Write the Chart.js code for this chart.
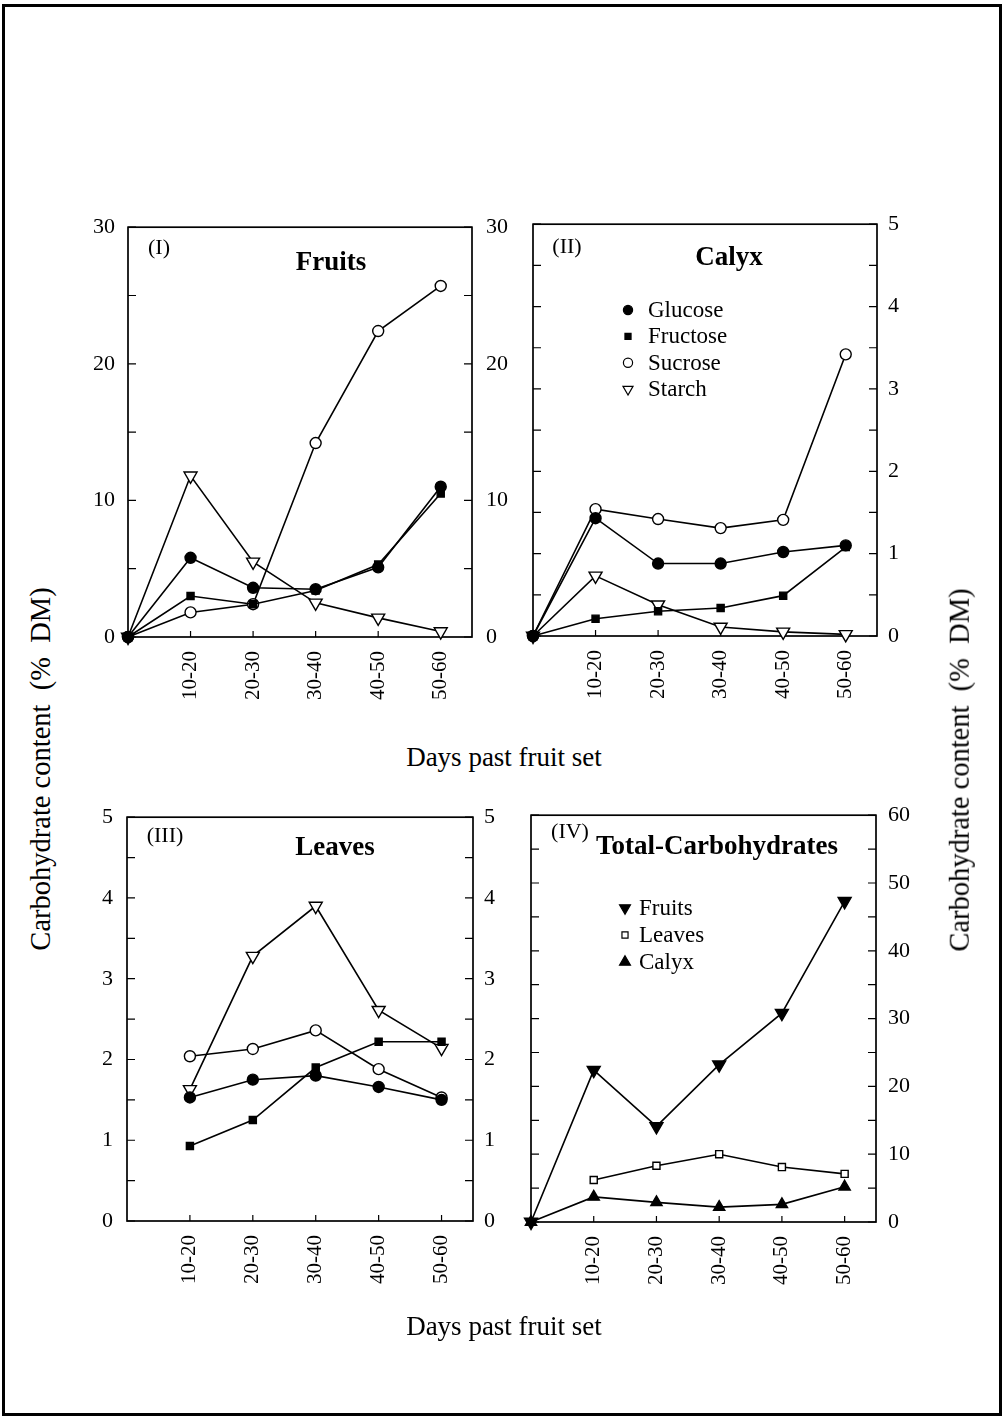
<!DOCTYPE html>
<html>
<head>
<meta charset="utf-8">
<script src="https://cdn.jsdelivr.net/npm/chart.js@4.4.1/dist/chart.umd.min.js"></script>
<style>
  html, body { margin:0; padding:0; background:#fff; }
  body { position:relative; width:1005px; height:1418px; overflow:hidden; font-family:"Liberation Serif","Times New Roman",serif; color:#000; }
  #frame { position:absolute; left:2px; top:4px; width:1000px; height:1412px; box-sizing:border-box; border:3px solid #000; }
  canvas { position:absolute; }
  .t { position:absolute; white-space:pre; line-height:1; transform:translate(-50%,-50%); }
  .b { font-weight:bold; font-size:27px; }
  .p { font-size:22px; }
  .ax { font-size:27px; }
  .ay { font-size:28.5px; }
  .rot { transform:translate(-50%,-50%) rotate(-90deg); }
</style>
</head>
<body>
<div id="frame"></div>
<canvas id="c1" width="470" height="540" style="left:60px;top:200px"></canvas>
<canvas id="c2" width="440" height="540" style="left:520px;top:200px"></canvas>
<canvas id="c3" width="470" height="540" style="left:60px;top:790px"></canvas>
<canvas id="c4" width="440" height="540" style="left:520px;top:790px"></canvas>

<div class="t p" style="left:159px;top:247px">(I)</div>
<div class="t b" style="left:331px;top:261px">Fruits</div>
<div class="t p" style="left:567px;top:246px">(II)</div>
<div class="t b" style="left:729px;top:256px">Calyx</div>
<div class="t p" style="left:165px;top:835px">(III)</div>
<div class="t b" style="left:335px;top:846px">Leaves</div>
<div class="t p" style="left:570px;top:831px">(IV)</div>
<div class="t b" style="left:717px;top:845px">Total-Carbohydrates</div>

<div class="t ax" style="left:504px;top:757px">Days past fruit set</div>
<div class="t ax" style="left:504px;top:1326px">Days past fruit set</div>
<div class="t ay rot" style="left:41px;top:769px">Carbohydrate content  (%  DM)</div>
<div class="t ay rot" style="left:960px;top:770px">Carbohydrate content  (%  DM)</div>

<script>
// ---------------- data ----------------
// x index 0 = fruit set (starting point), 1..5 = the periods below
const periods = ['10-20', '20-30', '30-40', '40-50', '50-60'];

// (I) Fruits, % DM
const fruitsGlucose  = [0, 5.8, 3.6, 3.5, 5.1, 11.0];
const fruitsFructose = [0, 3.0, 2.4, 3.4, 5.3, 10.5];
const fruitsSucrose  = [0, 1.8, 2.4, 14.2, 22.4, 25.7];
const fruitsStarch   = [0, 11.8, 5.5, 2.5, 1.4, 0.4];

// (II) Calyx, % DM
const calyxGlucose  = [0, 1.43, 0.88, 0.88, 1.02, 1.10];
const calyxFructose = [0, 0.21, 0.30, 0.34, 0.49, 1.08];
const calyxSucrose  = [0, 1.54, 1.42, 1.31, 1.41, 3.42];
const calyxStarch   = [0, 0.73, 0.38, 0.11, 0.05, 0.02];

// (III) Leaves, % DM (no fruit-set value)
const leavesGlucose  = [null, 1.53, 1.75, 1.80, 1.66, 1.50];
const leavesFructose = [null, 0.93, 1.25, 1.90, 2.22, 2.22];
const leavesSucrose  = [null, 2.04, 2.13, 2.36, 1.88, 1.53];
const leavesStarch   = [null, 1.63, 3.28, 3.90, 2.61, 2.14];

// (IV) Total carbohydrates, % DM
const totalFruits = [0, 22.4, 14.1, 23.2, 30.8, 47.3];
const totalLeaves = [null, 6.2, 8.3, 10.0, 8.1, 7.1];
const totalCalyx  = [0, 3.7, 2.9, 2.2, 2.6, 5.2];

// axis tick values and labels
const ticksFruits  = [0, 5, 10, 15, 20, 25, 30];
const labelsFruits = ['0', '', '10', '', '20', '', '30'];
const ticksFive    = [0, 0.5, 1, 1.5, 2, 2.5, 3, 3.5, 4, 4.5, 5];
const labelsFive   = ['0', '', '1', '', '2', '', '3', '', '4', '', '5'];
const ticksTotal   = [0, 5, 10, 15, 20, 25, 30, 35, 40, 45, 50, 55, 60];
const labelsTotal  = ['0', '', '10', '', '20', '', '30', '', '40', '', '50', '', '60'];

// ---------------- helpers ----------------
Chart.defaults.font.family = '"Liberation Serif", "Times New Roman", serif';
Chart.defaults.color = '#000';

const toPoints = arr => arr.map((v, i) => ({ x: i, y: v }));

const styles = {
  glucose:  { pointStyle: 'circle',   pointRotation: 0,   pointBackgroundColor: '#000', pointRadius: 5.5 },
  fructose: { pointStyle: 'rect',     pointRotation: 0,   pointBackgroundColor: '#000', pointRadius: 5 },
  sucrose:  { pointStyle: 'circle',   pointRotation: 0,   pointBackgroundColor: '#fff', pointRadius: 5.5 },
  starch:   { pointStyle: 'triangle', pointRotation: 180, pointBackgroundColor: '#fff', pointRadius: 7.5 },
  tFruits:  { pointStyle: 'triangle', pointRotation: 180, pointBackgroundColor: '#000', pointRadius: 7.5 },
  tLeaves:  { pointStyle: 'rect',     pointRotation: 0,   pointBackgroundColor: '#fff', pointRadius: 5 },
  tCalyx:   { pointStyle: 'triangle', pointRotation: 0,   pointBackgroundColor: '#000', pointRadius: 6.5 }
};

function ds(label, values, st) {
  return Object.assign({
    label, data: toPoints(values),
    borderColor: '#000', borderWidth: 1.6,
    pointBorderColor: '#000', pointBorderWidth: 1.4,
    pointHoverRadius: 0, tension: 0, clip: false, spanGaps: false, fill: false
  }, st);
}

const framePlugin = {
  id: 'frame',
  beforeDatasetsDraw(chart) {
    const { ctx, chartArea: a, scales } = chart;
    ctx.save();
    ctx.strokeStyle = '#000';
    ctx.lineWidth = 1.7;
    ctx.strokeRect(a.left, a.top, a.right - a.left, a.bottom - a.top);
    ctx.lineWidth = 1.2;
    ctx.beginPath();
    scales.y.ticks.forEach(t => { const p = scales.y.getPixelForValue(t.value); ctx.moveTo(a.left, p); ctx.lineTo(a.left + 8, p); });
    scales.y2.ticks.forEach(t => { const p = scales.y2.getPixelForValue(t.value); ctx.moveTo(a.right, p); ctx.lineTo(a.right - 8, p); });
    scales.x.ticks.forEach(t => { const p = scales.x.getPixelForValue(t.value); ctx.moveTo(p, a.bottom); ctx.lineTo(p, a.bottom - 6); });
    ctx.stroke();
    ctx.restore();
  }
};

function fallbackPoint(ctx, o, x, y) {
  const r = o.radius;
  ctx.beginPath();
  if (o.pointStyle === 'circle') ctx.arc(x, y, r, 0, Math.PI * 2);
  else if (o.pointStyle === 'rect') { const s = Math.SQRT1_2 * r; ctx.rect(x - s, y - s, 2 * s, 2 * s); }
  else {
    let rad = (o.rotation || 0) * Math.PI / 180;
    for (let k = 0; k < 3; k++) { const px = x + Math.sin(rad) * r, py = y - Math.cos(rad) * r; k ? ctx.lineTo(px, py) : ctx.moveTo(px, py); rad += 2 * Math.PI / 3; }
    ctx.closePath();
  }
  ctx.fill(); ctx.stroke();
}

const legendPlugin = {
  id: 'panelLegend',
  afterDatasetsDraw(chart, args, opts) {
    if (!opts || !opts.show) return;
    const ctx = chart.ctx;
    chart.data.datasets.forEach((d, i) => {
      const y = opts.y + i * opts.dy;
      ctx.save();
      ctx.fillStyle = d.pointBackgroundColor;
      ctx.strokeStyle = '#000';
      ctx.lineWidth = 1.2;
      const o = { pointStyle: d.pointStyle, rotation: d.pointRotation, radius: opts.radii[i], borderWidth: 1.2 };
      if (Chart.helpers && Chart.helpers.drawPoint) Chart.helpers.drawPoint(ctx, o, opts.x, y);
      else fallbackPoint(ctx, o, opts.x, y);
      ctx.restore();
      ctx.save();
      ctx.font = opts.fontSize + 'px "Liberation Serif", serif';
      ctx.fillStyle = '#000';
      ctx.textAlign = 'left';
      ctx.textBaseline = 'middle';
      ctx.fillText(d.label, opts.textX, y + 1);
      ctx.restore();
    });
  }
};

function makeChart(id, datasets, p) {
  const yScale = (pos, width, showLabels, pad) => ({
    type: 'linear', position: pos, min: p.min, max: p.max,
    grid: { display: false, drawTicks: false, tickLength: 0 }, border: { display: false },
    afterBuildTicks: s => { s.ticks = p.tickVals.map(v => ({ value: v })); },
    afterFit: s => { s.width = width; },
    ticks: {
      display: showLabels, padding: pad, font: { size: 22 }, color: '#000',
      callback: (v) => { const k = p.tickVals.indexOf(v); return k >= 0 ? p.tickLabels[k] : ''; }
    }
  });
  return new Chart(document.getElementById(id), {
    type: 'line',
    data: { datasets },
    plugins: [framePlugin, legendPlugin],
    options: {
      responsive: false, animation: false, devicePixelRatio: 1, events: [],
      layout: { padding: { top: p.top, left: 0, right: 0, bottom: 0 } },
      plugins: { legend: { display: false }, tooltip: { enabled: false }, panelLegend: p.legend || { show: false } },
      scales: {
        x: {
          type: 'linear', min: 0, max: 5.5,
          grid: { display: false, drawTicks: false, tickLength: 0 }, border: { display: false },
          afterBuildTicks: s => { s.ticks = periods.map((_, i) => ({ value: i + 1 })); },
          afterFit: s => { s.height = p.xHeight; },
          ticks: {
            autoSkip: false, minRotation: 90, maxRotation: 90, padding: 14,
            font: { size: 21 }, color: '#000',
            callback: v => periods[Math.round(v) - 1] || ''
          }
        },
        y: yScale('left', p.leftW, p.leftLabels, p.leftPad),
        y2: yScale('right', p.rightW, true, p.rightPad)
      }
    }
  });
}

// (I) Fruits
makeChart('c1', [
  ds('Glucose',  fruitsGlucose,  styles.glucose),
  ds('Fructose', fruitsFructose, styles.fructose),
  ds('Sucrose',  fruitsSucrose,  styles.sucrose),
  ds('Starch',   fruitsStarch,   styles.starch)
], { min: 0, max: 30, tickVals: ticksFruits, tickLabels: labelsFruits, top: 24, xHeight: 103,
     leftW: 68, rightW: 58, leftLabels: true, leftPad: 13, rightPad: 14 });

// (II) Calyx
makeChart('c2', [
  ds('Glucose',  calyxGlucose,  styles.glucose),
  ds('Fructose', calyxFructose, styles.fructose),
  ds('Sucrose',  calyxSucrose,  styles.sucrose),
  ds('Starch',   calyxStarch,   styles.starch)
], { min: 0, max: 5, tickVals: ticksFive, tickLabels: labelsFive, top: 24, xHeight: 104,
     leftW: 13, rightW: 83, leftLabels: false, leftPad: 10, rightPad: 11,
     legend: { show: true, x: 108, textX: 128, y: 110, dy: 26.4, fontSize: 23, radii: [4.6, 4.3, 4.6, 5.8] } });

// (III) Leaves
makeChart('c3', [
  ds('Glucose',  leavesGlucose,  styles.glucose),
  ds('Fructose', leavesFructose, styles.fructose),
  ds('Sucrose',  leavesSucrose,  styles.sucrose),
  ds('Starch',   leavesStarch,   styles.starch)
], { min: 0, max: 5, tickVals: ticksFive, tickLabels: labelsFive, top: 25, xHeight: 109,
     leftW: 67, rightW: 57, leftLabels: true, leftPad: 14, rightPad: 11 });

// (IV) Total carbohydrates
makeChart('c4', [
  ds('Fruits', totalFruits, styles.tFruits),
  ds('Leaves', totalLeaves, styles.tLeaves),
  ds('Calyx',  totalCalyx,  styles.tCalyx)
], { min: 0, max: 60, tickVals: ticksTotal, tickLabels: labelsTotal, top: 25, xHeight: 108,
     leftW: 11, rightW: 84, leftLabels: false, leftPad: 10, rightPad: 12,
     legend: { show: true, x: 105, textX: 119, y: 118, dy: 27, fontSize: 23, radii: [6.3, 4.3, 6.3] } });
</script>
</body>
</html>
